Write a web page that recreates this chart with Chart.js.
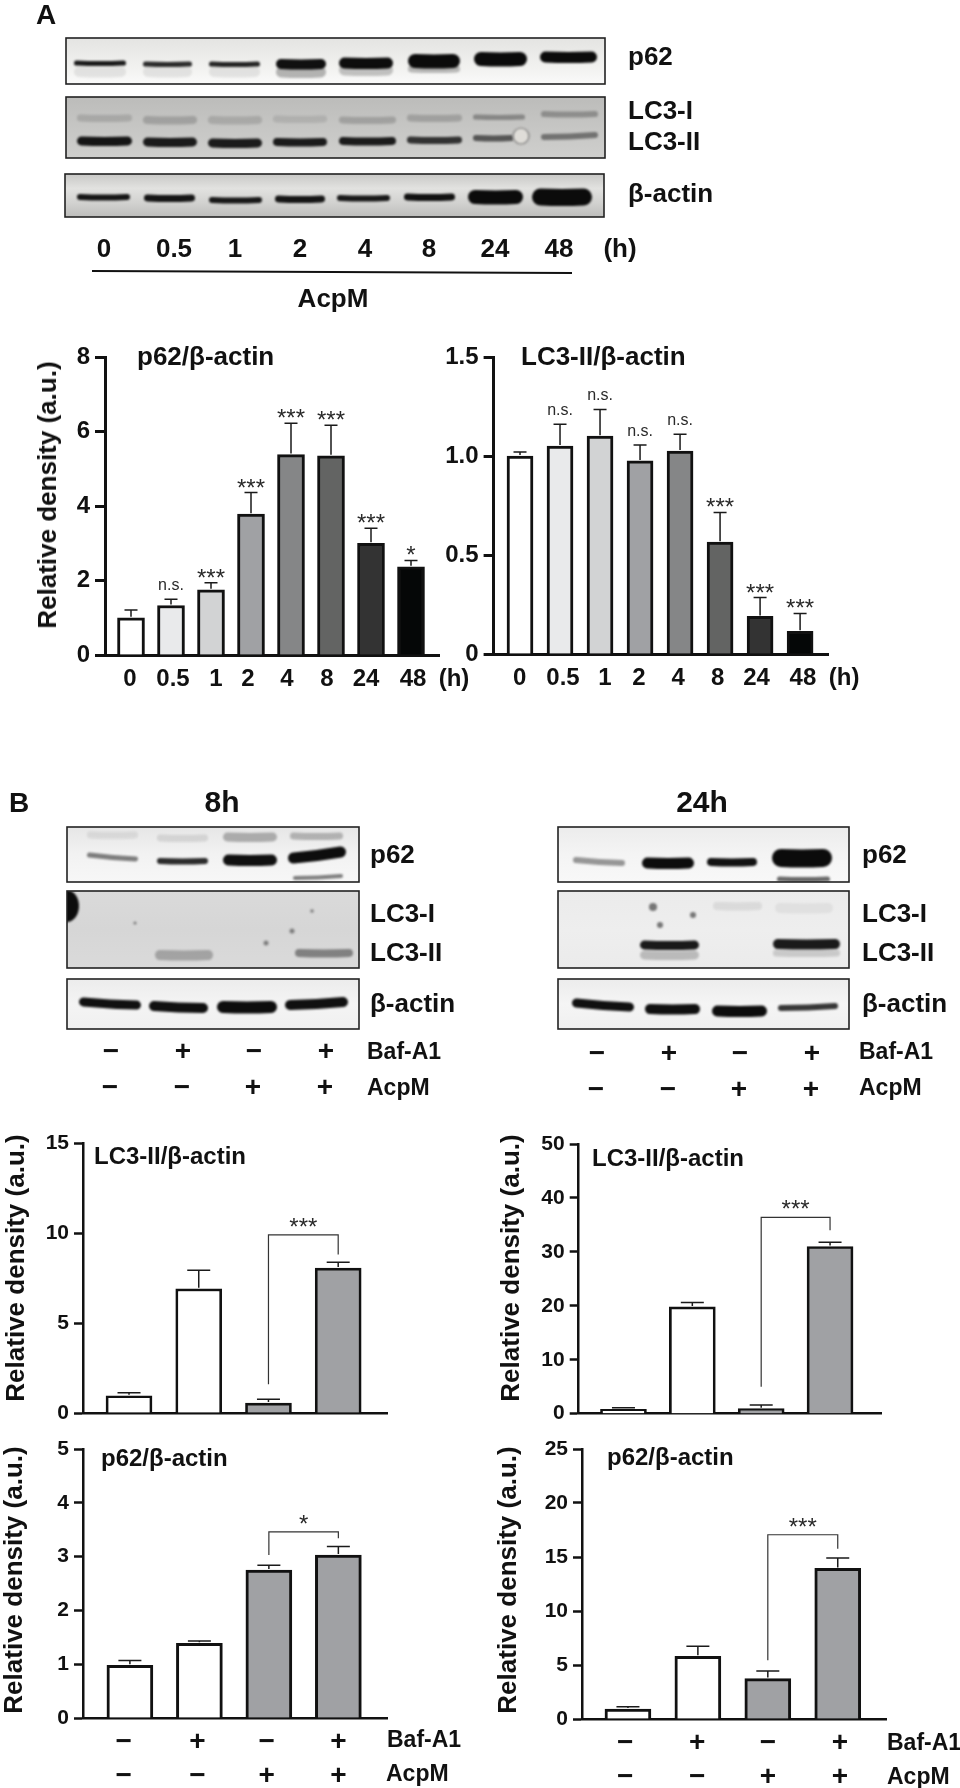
<!DOCTYPE html>
<html>
<head>
<meta charset="utf-8">
<script src="https://cdn.jsdelivr.net/npm/chart.js@4"></script>
<style>
html, body { margin: 0; padding: 0; background: #fff; }
#page { position: relative; width: 960px; height: 1788px; overflow: hidden; font-family: "Liberation Sans", Arial, sans-serif; }
#page canvas { position: absolute; }
.t { position: absolute; font-weight: bold; color: #111; white-space: nowrap; line-height: 1; }
</style>
</head>
<body>
<div id="page">
<canvas id="blots" width="960" height="1788" style="left:0;top:0"></canvas>
</div>
<script>
// --- panel A values ---
const timeCategories = ['0', '0.5', '1', '2', '4', '8', '24', '48'];
const timeTickLabels = ['0', '0.5', '1', '2', '4', '8', '24', '48', '(h)'];
const p62TimeValues = [1.0, 1.33, 1.75, 3.78, 5.38, 5.35, 3.0, 2.37];
const p62TimeTops = [1.21, 1.5, 1.94, 4.36, 6.22, 6.17, 3.4, 2.54];
const p62TimeSig = ['', 'n.s.', '***', '***', '***', '***', '***', '*'];
const lc3TimeValues = [1.0, 1.05, 1.1, 0.975, 1.025, 0.565, 0.19, 0.115];
const lc3TimeTops = [1.02, 1.16, 1.235, 1.055, 1.11, 0.715, 0.285, 0.205];
const lc3TimeSig = ['', 'n.s.', 'n.s.', 'n.s.', 'n.s.', '***', '***', '***'];
const timeBarColors = ['#ffffff', '#e9eaeb', '#d2d3d4', '#a0a1a4', '#858687', '#636463', '#333333', '#050707'];

// --- panel B values ---
const bafCategories = ['Ctrl', 'Baf-A1', 'AcpM', 'Baf-A1+AcpM'];
const signTickLabels = [['\u2212', '\u2212'], ['+', '\u2212'], ['\u2212', '+'], ['+', '+']];
const lc3At8hValues = [0.96, 6.9, 0.55, 8.05];
const lc3At8hTops = [1.13, 7.93, 0.76, 8.37];
const lc3At24hValues = [0.8, 19.8, 0.93, 31];
const lc3At24hTops = [1.1, 20.6, 1.6, 31.8];
const p62At8hValues = [0.98, 1.39, 2.75, 3.03];
const p62At8hTops = [1.07, 1.43, 2.84, 3.19];
const p62At24hValues = [0.93, 5.8, 3.74, 13.94];
const p62At24hTops = [1.14, 6.74, 4.45, 14.9];
const bafBarColors = ['#ffffff', '#ffffff', '#a0a1a4', '#a0a1a4'];

const FONT = '"Liberation Sans", Arial, sans-serif';
const page = document.getElementById('page');

// Places a text label on the page, centred vertically on y
function addText(str, x, y, size, align, rotate) {
    const el = document.createElement('span');
    el.className = 't';
    el.textContent = str;
    el.style.left = x + 'px';
    el.style.top = y + 'px';
    el.style.fontSize = size + 'px';
    let tf = align === 'center' ? 'translate(-50%,-50%)' : 'translate(0,-50%)';
    if (rotate) tf += ' rotate(-90deg)';
    el.style.transform = tf;
    page.appendChild(el);
}

// Error bars, significance marks and brackets
const markPlugin = {
    id: 'marks',
    afterDatasetsDraw(chart, args, opts) {
        const ctx = chart.ctx;
        const xs = chart.scales.x;
        const ys = chart.scales.y;
        ctx.save();
        ctx.strokeStyle = '#1a1a1a';
        ctx.lineWidth = opts.errWidth;
        opts.values.forEach((v, i) => {
            const x = xs.getPixelForValue(i);
            const top = ys.getPixelForValue(opts.tops[i]);
            ctx.beginPath();
            ctx.moveTo(x, ys.getPixelForValue(v) - 1);
            ctx.lineTo(x, top);
            ctx.moveTo(x - opts.capWidth / 2, top);
            ctx.lineTo(x + opts.capWidth / 2, top);
            ctx.stroke();
        });
        ctx.fillStyle = '#2a2a2a';
        ctx.textAlign = 'center';
        ctx.textBaseline = 'alphabetic';
        (opts.sig || []).forEach((s, i) => {
            if (!s) return;
            const x = xs.getPixelForValue(i);
            const top = ys.getPixelForValue(opts.tops[i]);
            if (s === 'n.s.') {
                ctx.font = '16px ' + FONT;
                ctx.fillText(s, x, top - 9);
            } else {
                ctx.font = '24px ' + FONT;
                ctx.fillText(s, x, top + 3);
            }
        });
        if (opts.bracket) {
            const b = opts.bracket;
            const x1 = xs.getPixelForValue(2);
            const x2 = xs.getPixelForValue(3);
            const yTop = ys.getPixelForValue(b.top);
            ctx.strokeStyle = '#333';
            ctx.lineWidth = 1.2;
            ctx.beginPath();
            ctx.moveTo(x1, ys.getPixelForValue(b.leftEnd));
            ctx.lineTo(x1, yTop);
            ctx.lineTo(x2, yTop);
            ctx.lineTo(x2, ys.getPixelForValue(b.rightEnd));
            ctx.stroke();
            ctx.font = '24px ' + FONT;
            ctx.fillText(b.label, (x1 + x2) / 2, yTop);
        }
        ctx.restore();
    }
};

// One bar panel: x is a linear scale so the axes can overrun the bars like in the figure
function barPanel(cfg) {
    const canvas = document.createElement('canvas');
    canvas.width = cfg.box[2];
    canvas.height = cfg.box[3];
    canvas.style.left = cfg.box[0] + 'px';
    canvas.style.top = cfg.box[1] + 'px';
    page.appendChild(canvas);

    const noPadding = s => { s.paddingLeft = s.paddingRight = s.paddingTop = s.paddingBottom = 0; };
    return new Chart(canvas, {
        type: 'bar',
        plugins: [markPlugin],
        data: {
            labels: cfg.categories,
            datasets: [{
                label: cfg.name,
                data: cfg.values.map((v, i) => ({ x: i, y: v })),
                backgroundColor: cfg.colors,
                borderColor: '#111',
                borderWidth: cfg.barBorder,
                borderSkipped: 'start',
                barThickness: cfg.barWidth
            }]
        },
        options: {
            responsive: false,
            animation: false,
            layout: { padding: { left: 0, right: cfg.padRight, top: cfg.padTop, bottom: 0 } },
            plugins: {
                legend: { display: false },
                tooltip: { enabled: false },
                marks: {
                    values: cfg.values, tops: cfg.tops, sig: cfg.sig, bracket: cfg.bracket,
                    errWidth: cfg.errWidth, capWidth: cfg.capWidth
                }
            },
            scales: {
                x: {
                    type: 'linear',
                    offset: false,
                    min: cfg.xMin,
                    max: cfg.xMax,
                    grid: { display: false, offset: false, drawTicks: false },
                    border: { display: true, color: '#111', width: cfg.axisWidth },
                    afterBuildTicks: s => { s.ticks = (cfg.tickAt || []).map(v => ({ value: v })); },
                    afterFit: s => { s.height = cfg.xHeight; noPadding(s); },
                    ticks: {
                        display: !!cfg.tickAt,
                        autoSkip: false,
                        maxRotation: 0,
                        padding: cfg.tickPad,
                        color: '#111',
                        font: { family: FONT, size: cfg.xFont, weight: 'bold', lineHeight: cfg.xLine },
                        callback: (v, i) => cfg.tickLabels[i]
                    }
                },
                y: {
                    min: 0,
                    max: cfg.yTicks[cfg.yTicks.length - 1],
                    border: { display: true, color: '#111', width: cfg.axisWidth },
                    grid: { drawOnChartArea: false, drawTicks: true, color: '#111', tickLength: cfg.tickLen, tickWidth: cfg.axisWidth },
                    afterBuildTicks: s => { s.ticks = cfg.yTicks.map(v => ({ value: v })); },
                    afterFit: s => { s.width = cfg.yWidth; noPadding(s); },
                    ticks: {
                        padding: 5,
                        color: '#111',
                        font: { family: FONT, size: cfg.yFont, weight: 'bold' },
                        callback: (v, i) => cfg.yLabels[i]
                    }
                }
            }
        }
    });
}

barPanel({
    box: [0, 320, 480, 400], name: 'p62/\u03b2-actin', categories: timeCategories,
    values: p62TimeValues, tops: p62TimeTops, sig: p62TimeSig, colors: timeBarColors,
    xMin: -0.65, xMax: 7.7, yWidth: 105, padRight: 41, padTop: 37, xHeight: 65,
    tickAt: [-0.025, 1.05, 2.125, 2.925, 3.9, 4.9, 5.875, 7.05, 8.075], tickLabels: timeTickLabels,
    tickPad: 10, xFont: 24, xLine: 1.2,
    yTicks: [0, 2, 4, 6, 8], yLabels: ['0', '2', '4', '6', '8'], yFont: 24, tickLen: 10,
    barWidth: 27, barBorder: 3, axisWidth: 3, errWidth: 1.5, capWidth: 13
});
barPanel({
    box: [430, 320, 530, 400], name: 'LC3-II/\u03b2-actin', categories: timeCategories,
    values: lc3TimeValues, tops: lc3TimeTops, sig: lc3TimeSig, colors: timeBarColors,
    xMin: -0.66, xMax: 7.71, yWidth: 63.6, padRight: 131.5, padTop: 37, xHeight: 66,
    tickAt: [-0.01, 1.075, 2.125, 2.97, 3.95, 4.94, 5.91, 7.07, 8.1], tickLabels: timeTickLabels,
    tickPad: 10, xFont: 24, xLine: 1.2,
    yTicks: [0, 0.5, 1, 1.5], yLabels: ['0', '0.5', '1.0', '1.5'], yFont: 24, tickLen: 10,
    barWidth: 26, barBorder: 3, axisWidth: 3, errWidth: 1.5, capWidth: 13
});
barPanel({
    box: [0, 1120, 480, 310], name: 'LC3-II/\u03b2-actin 8h', categories: bafCategories,
    values: lc3At8hValues, tops: lc3At8hTops, colors: bafBarColors,
    bracket: { top: 9.9, leftEnd: 1.6, rightEnd: 8.8, label: '***' },
    xMin: -0.66, xMax: 3.7, yWidth: 83, padRight: 93, padTop: 23, xHeight: 17,
    yTicks: [0, 5, 10, 15], yLabels: ['0', '5', '10', '15'], yFont: 21, tickLen: 9,
    barWidth: 46, barBorder: 2.7, axisWidth: 2.5, errWidth: 1.5, capWidth: 23
});
barPanel({
    box: [480, 1120, 480, 310], name: 'LC3-II/\u03b2-actin 24h', categories: bafCategories,
    values: lc3At24hValues, tops: lc3At24hTops, colors: bafBarColors,
    bracket: { top: 36.4, leftEnd: 5, rightEnd: 34, label: '***' },
    xMin: -0.65, xMax: 3.75, yWidth: 98.7, padRight: 78.3, padTop: 24, xHeight: 16.3,
    yTicks: [0, 10, 20, 30, 40, 50], yLabels: ['0', '10', '20', '30', '40', '50'], yFont: 21, tickLen: 9,
    barWidth: 46, barBorder: 2.7, axisWidth: 2.5, errWidth: 1.5, capWidth: 23
});
barPanel({
    box: [0, 1430, 480, 358], name: 'p62/\u03b2-actin 8h', categories: bafCategories,
    values: p62At8hValues, tops: p62At8hTops, colors: bafBarColors,
    bracket: { top: 3.46, leftEnd: 3.03, rightEnd: 3.34, label: '*' },
    xMin: -0.675, xMax: 3.7, yWidth: 83, padRight: 93, padTop: 19, xHeight: 70,
    tickAt: [-0.09, 0.97, 1.97, 3.0], tickLabels: signTickLabels, tickPad: 7, xFont: 28, xLine: 1.22,
    yTicks: [0, 1, 2, 3, 4, 5], yLabels: ['0', '1', '2', '3', '4', '5'], yFont: 21, tickLen: 9,
    barWidth: 46, barBorder: 3, axisWidth: 2.5, errWidth: 1.5, capWidth: 23
});
barPanel({
    box: [480, 1430, 480, 358], name: 'p62/\u03b2-actin 24h', categories: bafCategories,
    values: p62At24hValues, tops: p62At24hTops, colors: bafBarColors,
    bracket: { top: 17.06, leftEnd: 5.44, rightEnd: 15.76, label: '***' },
    xMin: -0.657, xMax: 3.69, yWidth: 102, padRight: 74, padTop: 19, xHeight: 69,
    tickAt: [-0.04, 0.99, 2.0, 3.03], tickLabels: signTickLabels, tickPad: 7, xFont: 28, xLine: 1.22,
    yTicks: [0, 5, 10, 15, 20, 25], yLabels: ['0', '5', '10', '15', '20', '25'], yFont: 21, tickLen: 9,
    barWidth: 46, barBorder: 3, axisWidth: 2.5, errWidth: 1.5, capWidth: 23
});

// --- blots: plain canvas sketch of the gel photos, not chart data ---
const bctx = document.getElementById('blots').getContext('2d');

// bands are [x1, x2, y, thickness, alpha, tilt]
function blot(x, y, w, h, bg, bands, extra) {
    bctx.save();
    bctx.beginPath();
    bctx.rect(x, y, w, h);
    bctx.clip();
    const grad = bctx.createLinearGradient(0, y, 0, y + h);
    bg.forEach((c, i) => grad.addColorStop(i / (bg.length - 1), c));
    bctx.fillStyle = grad;
    bctx.fillRect(x, y, w, h);
    bctx.filter = 'blur(1.3px)';
    bands.forEach(b => {
        const tilt = b[5] || 0;
        bctx.strokeStyle = 'rgba(8,8,8,' + b[4] + ')';
        bctx.lineWidth = b[3];
        bctx.lineCap = 'round';
        bctx.beginPath();
        bctx.moveTo(b[0] + b[3] / 2, b[2]);
        bctx.quadraticCurveTo((b[0] + b[1]) / 2, b[2] + tilt / 2 + 1, b[1] - b[3] / 2, b[2] + tilt);
        bctx.stroke();
    });
    if (extra) extra();
    bctx.restore();
    bctx.strokeStyle = '#222';
    bctx.lineWidth = 1.6;
    bctx.strokeRect(x, y, w, h);
}

function dots(list, alpha) {
    bctx.fillStyle = 'rgba(20,20,20,' + alpha + ')';
    list.forEach(s => {
        bctx.beginPath();
        bctx.arc(s[0], s[1], s[2], 0, Math.PI * 2);
        bctx.fill();
    });
}

// panel A
blot(66, 38, 539, 46, ['#e4e4e2', '#ebebe9', '#f2f2f0', '#fafafa'], [
    [74, 126, 72, 10, 0.08], [143, 192, 72, 10, 0.08], [209, 260, 72, 10, 0.08],
    [276, 326, 72, 11, 0.28], [339, 393, 70, 11, 0.22], [408, 460, 69, 7, 0.25],
    [74, 126, 63, 5, 0.92], [143, 192, 64, 5, 0.85], [209, 260, 64, 5, 0.88], [276, 326, 64, 10, 0.97],
    [339, 393, 63, 11, 0.98], [408, 460, 61, 14, 0.99], [474, 527, 59, 14, 0.99], [540, 597, 57, 11, 0.99]
]);
blot(66, 97, 539, 61, ['#bcbcba', '#c6c6c4', '#cfcfcd'], [
    [77, 132, 118, 7, 0.14], [143, 197, 120, 8, 0.18], [208, 262, 120, 8, 0.14], [273, 327, 119, 7, 0.1],
    [339, 396, 120, 7, 0.18], [407, 462, 118, 7, 0.18], [473, 525, 117, 5, 0.32], [541, 598, 114, 6, 0.28],
    [77, 132, 141, 9, 0.93], [143, 197, 142, 9, 0.9], [208, 262, 143, 9, 0.9], [273, 327, 142, 8, 0.9],
    [339, 396, 141, 8, 0.9], [407, 462, 140, 7, 0.78], [473, 514, 138, 6, 0.6], [541, 598, 137, 6, 0.45, -2]
], () => {
    bctx.filter = 'blur(0.8px)';
    bctx.fillStyle = '#dfddd8';
    bctx.strokeStyle = '#777';
    bctx.lineWidth = 1.2;
    bctx.beginPath();
    bctx.ellipse(521, 136, 8, 8, 0, 0, Math.PI * 2);
    bctx.fill();
    bctx.stroke();
});
blot(65, 174, 539, 43, ['#c8c8c6', '#e2e2e0', '#d2d2d0', '#bdbdbb'], [
    [77, 130, 197, 6, 0.94], [144, 195, 198, 7, 0.94], [209, 262, 200, 6, 0.92], [275, 325, 199, 7, 0.94],
    [337, 390, 198, 6, 0.92], [404, 455, 197, 7, 0.96], [468, 523, 197, 14, 0.99], [532, 592, 197, 17, 0.99]
]);
bctx.strokeStyle = '#111';
bctx.lineWidth = 2;
bctx.beginPath();
bctx.moveTo(92, 271);
bctx.lineTo(572, 273);
bctx.stroke();

// panel B, 8h
blot(67, 827, 292, 55, ['#e6e6e6', '#f2f2f2', '#f7f7f7'], [
    [87, 138, 835, 7, 0.08], [157, 208, 838, 7, 0.1], [223, 277, 837, 9, 0.28], [290, 343, 836, 7, 0.25],
    [87, 138, 855, 5, 0.5, 4], [157, 208, 861, 6, 0.85], [223, 277, 860, 11, 0.97], [288, 346, 858, 11, 0.98, -6],
    [293, 343, 878, 4, 0.5, -2]
]);
blot(67, 891, 292, 77, ['#dadada', '#d6d6d6', '#dadada'], [
    [155, 213, 955, 10, 0.26], [295, 353, 953, 8, 0.42]
], () => {
    bctx.fillStyle = '#0c0c0c';
    bctx.beginPath();
    bctx.ellipse(67, 906, 12, 16, 0, 0, Math.PI * 2);
    bctx.fill();
    dots([[266, 943, 2.5], [292, 931, 2.5], [312, 911, 1.8], [135, 923, 1.6]], 0.45);
});
blot(67, 979, 292, 50, ['#ececec', '#f4f4f4', '#f0f0f0'], [
    [79, 141, 1002, 9, 0.97, 3], [149, 208, 1006, 10, 0.97, 2], [217, 277, 1007, 12, 0.98], [285, 348, 1005, 10, 0.97, -3]
]);

// panel B, 24h
blot(558, 827, 291, 55, ['#ececec', '#f4f4f4', '#f8f8f8'], [
    [573, 625, 860, 6, 0.4, 3], [642, 694, 863, 11, 0.98], [707, 757, 862, 8, 0.96], [772, 832, 858, 18, 0.99],
    [777, 830, 879, 5, 0.6]
]);
blot(558, 891, 291, 77, ['#ebebeb', '#eeeeee', '#ebebeb'], [
    [713, 762, 906, 8, 0.08], [775, 833, 908, 10, 0.05],
    [640, 699, 955, 9, 0.22], [773, 840, 953, 7, 0.15],
    [640, 699, 945, 9, 0.92], [773, 840, 944, 10, 0.92]
], () => {
    dots([[653, 907, 4], [660, 925, 3], [693, 915, 3]], 0.55);
});
blot(558, 979, 291, 50, ['#ececec', '#f5f5f5', '#f0f0f0'], [
    [572, 634, 1003, 9, 0.97, 4], [645, 700, 1009, 10, 0.97], [712, 767, 1011, 11, 0.98], [778, 838, 1008, 6, 0.8, -2]
]);

// --- text ---
addText('A', 36, 15, 28);
addText('B', 9, 803, 28);
addText('p62', 628, 56, 26);
addText('LC3-I', 628, 110, 26);
addText('LC3-II', 628, 141, 26);
addText('\u03b2-actin', 628, 193, 26);
timeTickLabels.forEach((s, i) => {
    addText(s, [104, 174, 235, 300, 365, 429, 495, 559, 620][i], 248, 26, 'center');
});
addText('AcpM', 333, 298, 26, 'center');

addText('p62/\u03b2-actin', 137, 356, 26);
addText('LC3-II/\u03b2-actin', 521, 356, 26);
addText('Relative density (a.u.)', 47, 495, 26, 'center', true);

addText('8h', 222, 802, 30, 'center');
addText('24h', 702, 802, 30, 'center');
[[370, 367], [862, 859]].forEach(col => {
    addText('p62', col[0], 854, 26);
    addText('LC3-I', col[0], 913, 26);
    addText('LC3-II', col[0], 952, 26);
    addText('\u03b2-actin', col[0], 1003, 26);
    addText('Baf-A1', col[1], 1051, 23);
    addText('AcpM', col[1], 1087, 23);
});
[[111, 183, 254, 326, 1051], [597, 669, 740, 812, 1053]].forEach(row => {
    signTickLabels.forEach((pair, i) => {
        addText(pair[0], row[i], row[4], 28, 'center');
        addText(pair[1], row[i] - 1, row[4] + 36, 28, 'center');
    });
});

addText('LC3-II/\u03b2-actin', 94, 1156, 24);
addText('LC3-II/\u03b2-actin', 592, 1158, 24);
addText('Relative density (a.u.)', 15, 1268, 26, 'center', true);
addText('Relative density (a.u.)', 510, 1268, 26, 'center', true);

addText('p62/\u03b2-actin', 101, 1458, 24);
addText('p62/\u03b2-actin', 607, 1457, 24);
addText('Relative density (a.u.)', 13, 1580, 26, 'center', true);
addText('Relative density (a.u.)', 507, 1580, 26, 'center', true);
addText('Baf-A1', 387, 1739, 23);
addText('AcpM', 386, 1773, 23);
addText('Baf-A1', 887, 1742, 23);
addText('AcpM', 887, 1776, 23);
</script>
</body>
</html>
